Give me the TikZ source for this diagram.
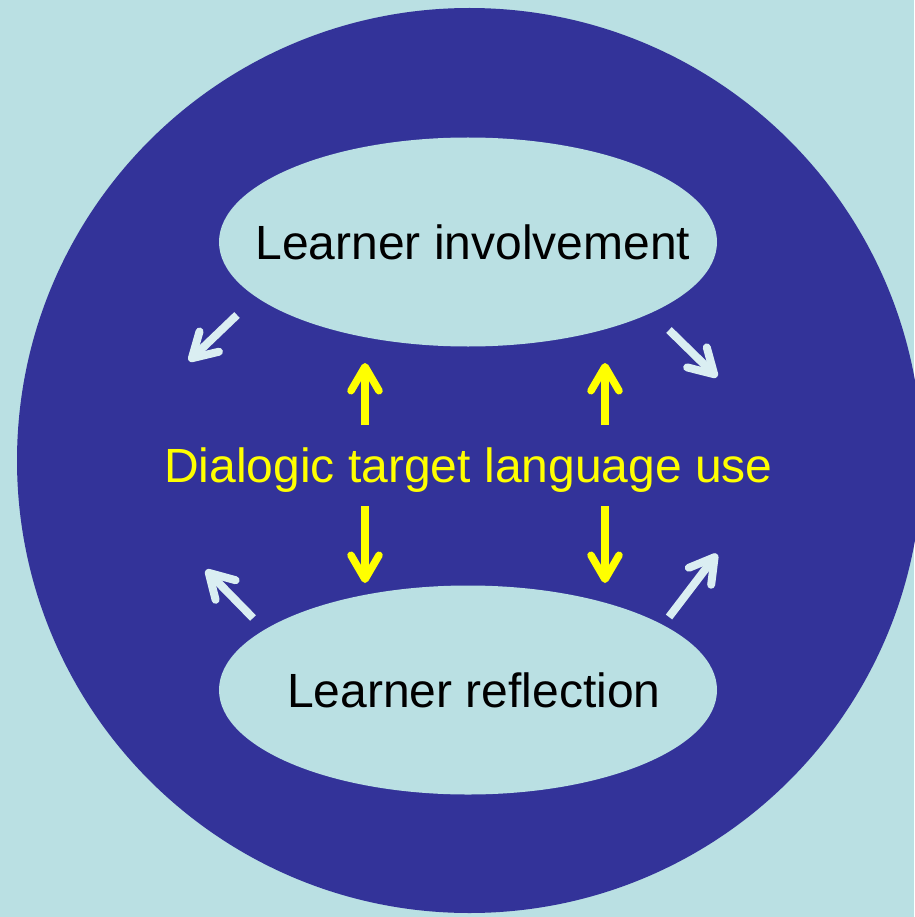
\documentclass[tikz,border=0pt]{standalone}
\usepackage{fontspec}
\setmainfont{Liberation Sans}
\usepackage{xcolor}
\usetikzlibrary{arrows.meta,shapes.geometric}
\definecolor{vbg}{HTML}{BAE0E3}
\definecolor{vnavy}{HTML}{333399}
\definecolor{vpale}{HTML}{DAEEF2}
\definecolor{vyellow}{HTML}{FFFF00}
\tikzset{
	bubble/.style={ellipse, fill=vbg, minimum width=498pt, minimum height=209pt, inner xsep=-60pt, inner ysep=0pt, font=\fontsize{48}{58}\selectfont},
	dialogic/.style={text=vyellow, inner sep=0pt, font=\fontsize{48}{58}\selectfont},
	palearrow/.style={color=vpale, line width=8pt, -{Straight Barb[round, length=24pt, width=28pt]}},
	yellowarrow/.style={color=vyellow, line width=7.5pt, -{Straight Barb[round, length=24pt, width=28pt]}}
}

\begin{document}
\begin{tikzpicture}[x=1pt, y=-1pt]
		\useasboundingbox (0,0) rectangle (914,917);
		\fill[color=vbg] (0,0) rectangle (914,917);
		\fill[color=vnavy] (469.5,460.5) circle (452.5pt);
		\node[bubble] (inv) at (468,242) {\hspace{10pt}Learner involvement};
		\node[bubble] (refl) at (468,690) {\hspace{12pt}Learner reflection};
		\node[dialogic, anchor=base] (dtl) at (468.5,482) {Dialogic target language use};
		\coordinate (TLs) at (237,315);
		\coordinate (TLe) at (189,361);
		\coordinate (TRs) at (669,330);
		\coordinate (TRe) at (717,377);
		\coordinate (BLs) at (253,618);
		\coordinate (BLe) at (206,570);
		\coordinate (BRs) at (669,617);
		\coordinate (BRe) at (717,554);
		\coordinate (UL) at (365,425);
		\coordinate (ULe) at (365,363);
		\coordinate (UR) at (605,425);
		\coordinate (URe) at (605,363);
		\coordinate (DL) at (365,506);
		\coordinate (DLe) at (365,583);
		\coordinate (DR) at (605,506);
		\coordinate (DRe) at (605,583);
		\draw[palearrow] (TLs) -- (TLe);
		\draw[palearrow] (TRs) -- (TRe);
		\draw[palearrow] (BLs) -- (BLe);
		\draw[palearrow] (BRs) -- (BRe);
		\draw[yellowarrow] (UL) -- (ULe);
		\draw[yellowarrow] (UR) -- (URe);
		\draw[yellowarrow] (DL) -- (DLe);
		\draw[yellowarrow] (DR) -- (DRe);
	\end{tikzpicture}
\end{document}
